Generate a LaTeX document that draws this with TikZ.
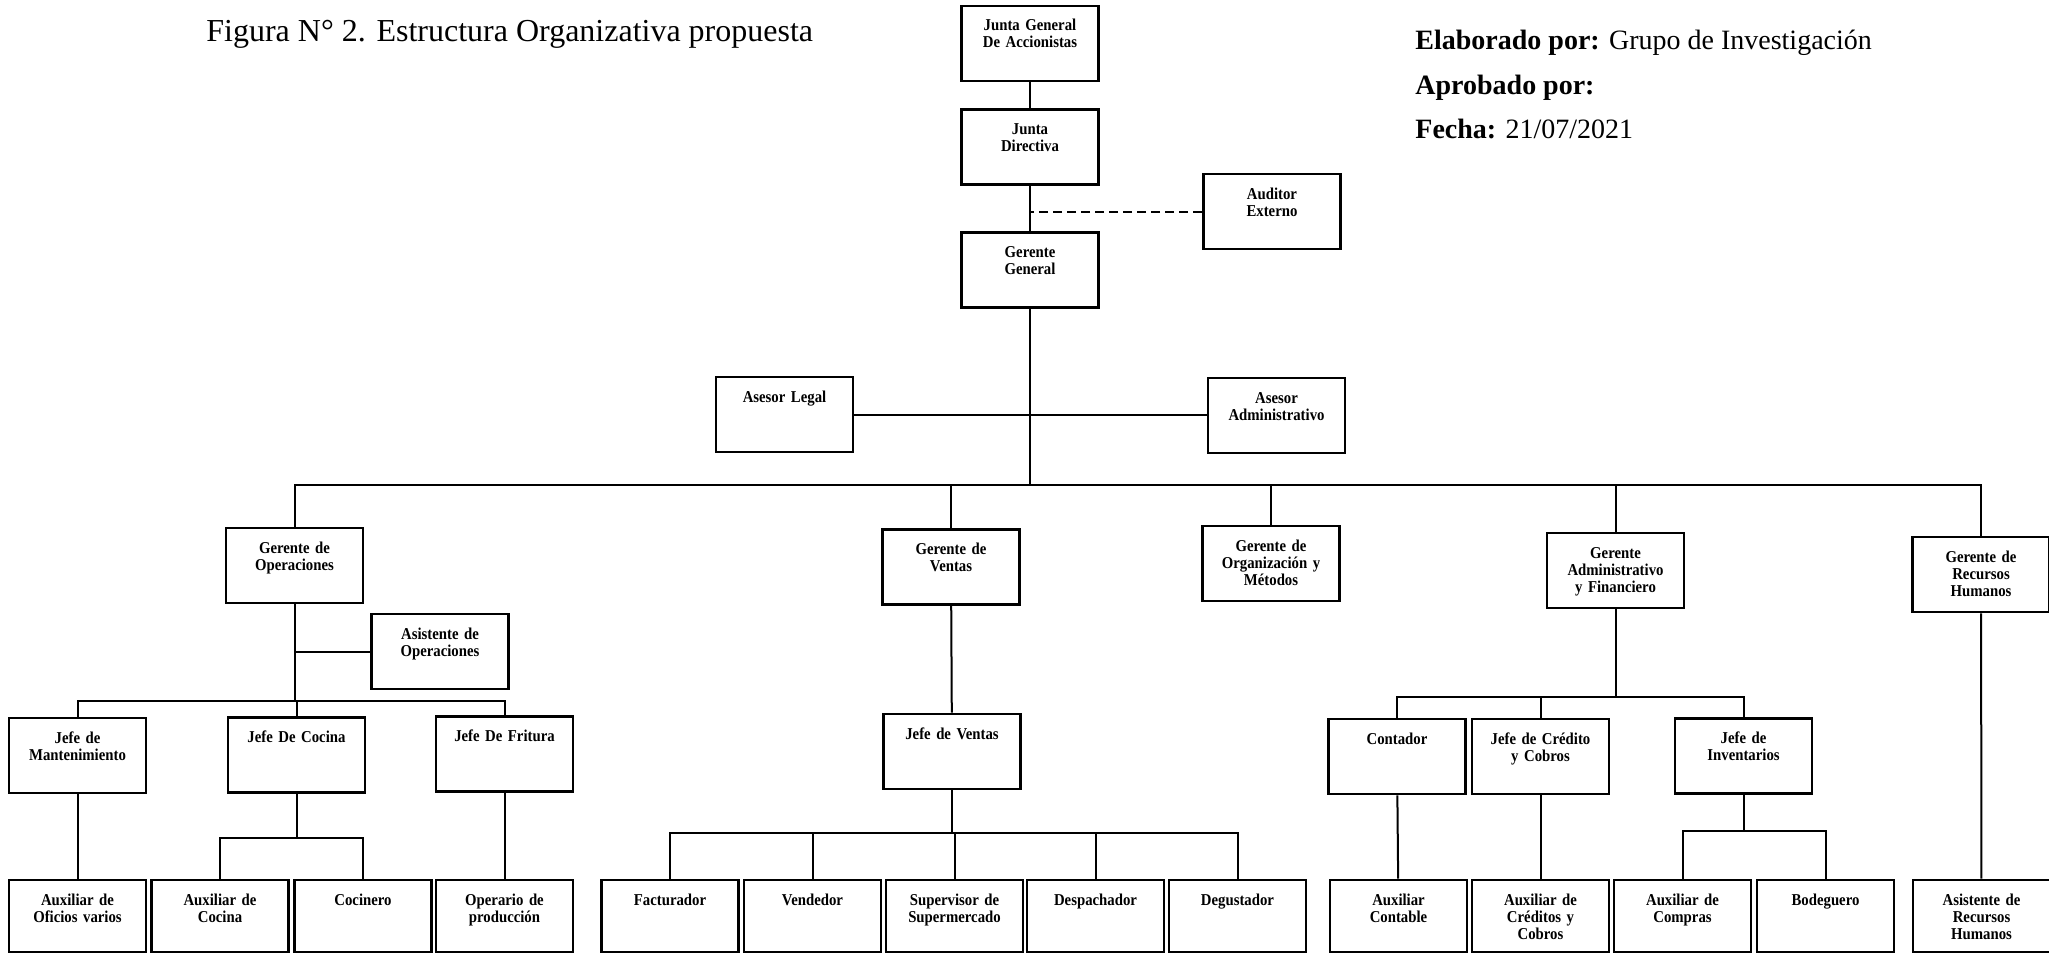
\documentclass[tikz,border=0pt]{standalone}
\usepackage{fontspec}
\setmainfont{Liberation Serif}
\newfontfamily\boxfont[FakeStretch=0.89]{Liberation Serif}
\begin{document}
\begin{tikzpicture}[x=0.5pt,y=-0.5pt,
  org/.style={draw, line width=1.3pt, inner xsep=1.25pt, inner ysep=0pt,
    text width=66pt, align=center,
    font=\boxfont\fontsize{8.3}{8.5}\selectfont\bfseries,
    text height=12.5pt, text depth=25pt},
  orgbot/.style={org, text depth=23.5pt},
  link/.style={line width=1pt},
  hdr/.style={anchor=base west, inner sep=0pt, font=\fontsize{14}{16}\selectfont}
]
\useasboundingbox (0,0) rectangle (2049,953);

% heading and document stamp
\node[anchor=base west, inner sep=0pt, font=\fontsize{16}{19}\selectfont] (title) at (206,41)
  {Figura N° 2. Estructura Organizativa propuesta};
\node[hdr] (elab) at (1415,49) {\textbf{Elaborado por:} Grupo de Investigación};
\node[hdr] (aprob) at (1415,94) {\textbf{Aprobado por:}};
\node[hdr] (fecha) at (1415,138) {\textbf{Fecha:} 21/07/2021};

% top management
\node[org] (jg)  at (1030,43.5) {Junta General\\De Accionistas};
\node[org] (jd)  at (1030,147)  {Junta\\Directiva};
\node[org] (aud) at (1272,211.5) {Auditor\\Externo};
\node[org] (gg)  at (1030,270)  {Gerente\\General};
\node[org] (al)  at (784.5,414.5) {Asesor Legal};
\node[org] (aa)  at (1276.5,415.5) {Asesor\\Administrativo};

% managers
\node[org] (gop) at (294.5,565.5) {Gerente de\\Operaciones};
\node[org] (gv)  at (951,567)    {Gerente de\\Ventas};
\node[org] (gom) at (1271,563.5) {Gerente de\\Organización y\\Métodos};
\node[org] (gaf) at (1615.5,570.5) {Gerente\\Administrativo\\y Financiero};
\node[org] (grh) at (1981,574.5) {Gerente de\\Recursos\\Humanos};

% operations
\node[org] (aop) at (440,651.5) {Asistente de\\Operaciones};
\node[org] (jm)  at (77.5,755.5) {Jefe de\\Mantenimiento};
\node[org] (jc)  at (296.5,755)  {Jefe De Cocina};
\node[org] (jf)  at (504.5,754)  {Jefe De Fritura};
\node[orgbot] (aof) at (77.5,916)  {Auxiliar de\\Oficios varios};
\node[orgbot] (aco) at (220,916)   {Auxiliar de\\Cocina};
\node[orgbot] (coc) at (363,916)   {Cocinero};
\node[orgbot] (opp) at (504.5,916) {Operario de\\producción};

% sales
\node[org] (jv) at (952,751.5) {Jefe de Ventas};
\node[orgbot] (fac) at (670,916)    {Facturador};
\node[orgbot] (ven) at (812.5,916)  {Vendedor};
\node[orgbot] (sup) at (954.5,916)  {Supervisor de\\Supermercado};
\node[orgbot] (des) at (1095.5,916) {Despachador};
\node[orgbot] (deg) at (1237.5,916) {Degustador};

% administration and finance
\node[org] (con) at (1397,756.5)   {Contador};
\node[org] (jcc) at (1540.5,756.5) {Jefe de Crédito\\y Cobros};
\node[org] (ji)  at (1743.5,756)   {Jefe de\\Inventarios};
\node[orgbot] (acon) at (1398.5,916) {Auxiliar\\Contable};
\node[orgbot] (acc)  at (1540.5,916) {Auxiliar de\\Créditos y\\Cobros};
\node[orgbot] (acom) at (1682.5,916) {Auxiliar de\\Compras};
\node[orgbot] (bod)  at (1825.5,916) {Bodeguero};

% human resources
\node[orgbot] (arh) at (1981.5,916) {Asistente de\\Recursos\\Humanos};

% bus levels
\coordinate (bus)    at (0,485);
\coordinate (opsbus) at (0,701);
\coordinate (cocbus) at (0,838);
\coordinate (venbus) at (0,833);
\coordinate (afbus)  at (0,697);
\coordinate (invbus) at (0,831);

% top chain
\draw[link] (jg) -- (jd);
\draw[link] (jd) -- (gg);
\draw[link, dash pattern=on 4.5pt off 2.5pt] (aud.west) -- (aud.west -| jd.south);
\draw[link] (al.east) -- (al.east -| aa.west);
\draw[link] (gg.south) -- (gg.south |- bus);

% managers bus
\draw[link] (gop.north) |- (grh.north |- bus) -- (grh.north);
\draw[link] (gv.north)  -- (gv.north |- bus);
\draw[link] (gom.north) -- (gom.north |- bus);
\draw[link] (gaf.north) -- (gaf.north |- bus);

% operations branch
\draw[link] (gop.south) -- (gop.south |- opsbus);
\draw[link] (aop.west) -- (aop.west -| gop.south);
\draw[link] (jm.north) |- (jf.north |- opsbus) -- (jf.north);
\draw[link] (jc.north) -- (jc.north |- opsbus);
\draw[link] (jm) -- (aof);
\draw[link] (jc.south) -- (jc.south |- cocbus);
\draw[link] (aco.north) |- (coc.north |- cocbus) -- (coc.north);
\draw[link] (jf) -- (opp);

% sales branch
\draw[link] (gv) -- (jv);
\draw[link] (jv.south) -- (jv.south |- venbus);
\draw[link] (fac.north) |- (deg.north |- venbus) -- (deg.north);
\draw[link] (ven.north) -- (ven.north |- venbus);
\draw[link] (sup.north) -- (sup.north |- venbus);
\draw[link] (des.north) -- (des.north |- venbus);

% administration and finance branch
\draw[link] (gaf.south) -- (gaf.south |- afbus);
\draw[link] (con.north) |- (ji.north |- afbus) -- (ji.north);
\draw[link] (jcc.north) -- (jcc.north |- afbus);
\draw[link] (con) -- (acon);
\draw[link] (jcc) -- (acc);
\draw[link] (ji.south) -- (ji.south |- invbus);
\draw[link] (acom.north) |- (bod.north |- invbus) -- (bod.north);

% human resources branch
\draw[link] (grh) -- (arh);
\end{tikzpicture}
\end{document}
